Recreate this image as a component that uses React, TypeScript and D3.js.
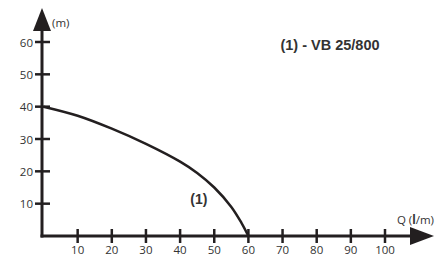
import * as d3 from "d3"

const flow = [0, 10, 20, 30, 40, 45, 50, 55, 58, 60]
const head = [40, 37.2, 33.2, 28.5, 23, 19.5, 15, 9, 4, 0]
const xTicks = [10, 20, 30, 40, 50, 60, 70, 80, 90, 100]
const yTicks = [10, 20, 30, 40, 50, 60]
const title = "(1) - VB 25/800"
const curveLabel = "(1)"

const W = 435
const H = 255
const INK = "#231f20"

const App = () => {
  const x = d3.scaleLinear().domain([0, 100]).range([43.5, 385])
  const y = d3.scaleLinear().domain([0, 60]).range([236, 42])
  const x0 = x(0) - 1.5
  const y0 = y(0)

  const line = d3
    .line<number>()
    .x((_, i) => x(flow[i]))
    .y((d) => y(d))
    .curve(d3.curveCatmullRom.alpha(0.5))

  return (
    <svg
      width={W}
      height={H}
      style={{ position: "absolute", left: 0, top: 0, background: "#fff" }}
    >
      {/* axes */}
      <line x1={x0} x2={x0} y1={y0 + 1.5} y2={26} stroke={INK} strokeWidth={3} />
      <line x1={x0 - 1.5} x2={412} y1={y0} y2={y0} stroke={INK} strokeWidth={3} />
      <path d={`M${x0},8 L${x0 + 9},31 L${x0 - 9},31 Z`} fill={INK} />
      <path d={`M434,${y0} L410,${y0 - 9} L410,${y0 + 9} Z`} fill={INK} />

      {yTicks.map((t) => (
        <g key={t}>
          <line x1={x0 - 7} x2={x0 + 8} y1={y(t)} y2={y(t)} stroke={INK} strokeWidth={2.5} />
          <text
            x={x0 - 9}
            y={y(t)}
            textAnchor="end"
            dominantBaseline="central"
            fontFamily="Open Sans"
            fontSize={11.5}
            fill="#333"
          >
            {t}
          </text>
        </g>
      ))}
      {xTicks.map((t) => (
        <g key={t}>
          <line x1={x(t)} x2={x(t)} y1={y0 - 7} y2={y0 + 7} stroke={INK} strokeWidth={2.5} />
          <text
            x={x(t)}
            y={y0 + 13}
            textAnchor="middle"
            dominantBaseline="central"
            fontFamily="Open Sans"
            fontSize={11.5}
            fill="#333"
          >
            {t}
          </text>
        </g>
      ))}

      <path d={line(head) ?? ""} fill="none" stroke={INK} strokeWidth={2.5} />

      <text x={x0 + 10} y={22} dominantBaseline="central" fontFamily="Open Sans" fontSize={11.5} fill="#333">
        (m)
      </text>
      <text x={434} y={219} textAnchor="end" dominantBaseline="central" fontFamily="Open Sans" fontSize={11.5} fill="#333">
        Q (<tspan fontWeight="bold">l</tspan>/m)
      </text>

      <text
        x={330}
        y={45}
        textAnchor="middle"
        dominantBaseline="central"
        fontFamily="Liberation Sans"
        fontWeight="bold"
        fontSize={14.5}
        fill="#333"
      >
        {title}
      </text>
      <text
        x={x(45.5)}
        y={y(11.5)}
        textAnchor="middle"
        dominantBaseline="central"
        fontFamily="Liberation Sans"
        fontWeight="bold"
        fontSize={14}
        fill="#333"
      >
        {curveLabel}
      </text>
    </svg>
  )
}

export default App
